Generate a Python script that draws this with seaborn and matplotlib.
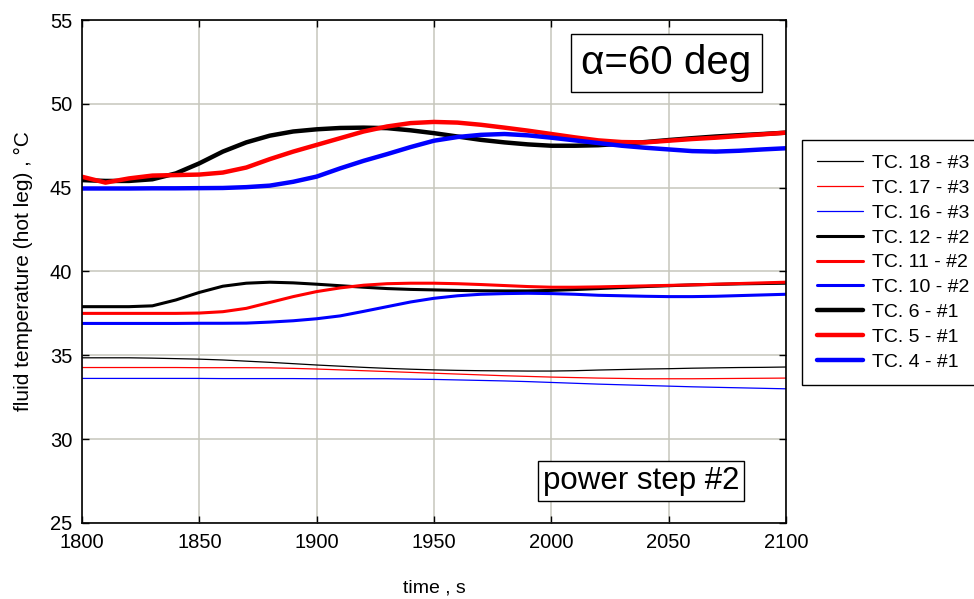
import numpy as np
import pandas as pd
import matplotlib
matplotlib.use('Agg')
import matplotlib.pyplot as plt
import seaborn as sns

# time axis, s
time_s = list(range(1800, 2101, 10))

# power step #2, thermocouples at three levels
tc18 = [34.85, 34.85, 34.85, 34.83, 34.80, 34.77, 34.72, 34.65, 34.58, 34.50, 34.42,
        34.35, 34.28, 34.22, 34.17, 34.13, 34.10, 34.08, 34.07, 34.06, 34.06,
        34.08, 34.12, 34.15, 34.18, 34.20, 34.23, 34.25, 34.27, 34.28, 34.30]
tc17 = [34.27, 34.27, 34.27, 34.27, 34.27, 34.26, 34.26, 34.26, 34.25, 34.22, 34.18,
        34.13, 34.08, 34.03, 33.98, 33.93, 33.88, 33.83, 33.78, 33.74, 33.70,
        33.67, 33.64, 33.62, 33.60, 33.60, 33.60, 33.61, 33.62, 33.63, 33.64]
tc16 = [33.62, 33.62, 33.62, 33.62, 33.62, 33.62, 33.61, 33.61, 33.61, 33.61, 33.60,
        33.60, 33.60, 33.60, 33.58, 33.56, 33.53, 33.50, 33.47, 33.43, 33.38,
        33.33, 33.28, 33.24, 33.20, 33.16, 33.12, 33.09, 33.06, 33.03, 33.00]
tc12 = [37.90, 37.90, 37.90, 37.95, 38.30, 38.75, 39.12, 39.30, 39.36, 39.32, 39.24,
        39.15, 39.06, 38.98, 38.93, 38.90, 38.87, 38.85, 38.84, 38.84, 38.87,
        38.92, 38.98, 39.04, 39.10, 39.15, 39.20, 39.23, 39.26, 39.28, 39.30]
tc11 = [37.50, 37.50, 37.50, 37.50, 37.50, 37.52, 37.60, 37.80, 38.15, 38.50, 38.80,
        39.02, 39.18, 39.27, 39.30, 39.30, 39.27, 39.22, 39.16, 39.10, 39.06,
        39.06, 39.08, 39.11, 39.14, 39.17, 39.20, 39.24, 39.28, 39.32, 39.36]
tc10 = [36.90, 36.90, 36.90, 36.90, 36.90, 36.91, 36.91, 36.92, 36.98, 37.06, 37.18,
        37.35, 37.62, 37.90, 38.18, 38.40, 38.55, 38.64, 38.68, 38.70, 38.68,
        38.64, 38.58, 38.55, 38.52, 38.50, 38.50, 38.52, 38.56, 38.60, 38.64]
tc6 = [45.45, 45.40, 45.40, 45.50, 45.85, 46.45, 47.15, 47.70, 48.10, 48.35, 48.48,
       48.56, 48.58, 48.55, 48.42, 48.25, 48.05, 47.85, 47.70, 47.58, 47.50,
       47.50, 47.53, 47.62, 47.72, 47.84, 47.95, 48.05, 48.13, 48.20, 48.28]
tc5 = [45.65, 45.30, 45.55, 45.72, 45.75, 45.78, 45.90, 46.20, 46.70, 47.15, 47.55,
       47.95, 48.35, 48.65, 48.85, 48.92, 48.88, 48.75, 48.58, 48.40, 48.20,
       48.00, 47.82, 47.72, 47.70, 47.80, 47.90, 47.98, 48.08, 48.18, 48.28]
tc4 = [44.95, 44.95, 44.95, 44.96, 44.96, 44.97, 44.98, 45.03, 45.12, 45.35, 45.66,
       46.15, 46.60, 47.00, 47.42, 47.80, 48.02, 48.15, 48.20, 48.12, 47.98,
       47.82, 47.66, 47.50, 47.38, 47.28, 47.18, 47.15, 47.20, 47.28, 47.35]

series_labels = ['TC. 18 - #3', 'TC. 17 - #3', 'TC. 16 - #3',
                 'TC. 12 - #2', 'TC. 11 - #2', 'TC. 10 - #2',
                 'TC. 6 - #1', 'TC. 5 - #1', 'TC. 4 - #1']
series_values = [tc18, tc17, tc16, tc12, tc11, tc10, tc6, tc5, tc4]
series_colors = ['black', 'red', 'blue'] * 3
series_widths = [0.9] * 3 + [2.2] * 3 + [3.2] * 3

sns.set_theme(style='whitegrid')
plt.rcParams['font.family'] = ['Liberation Sans', 'DejaVu Sans']
plt.rcParams['text.color'] = 'black'
plt.rcParams['axes.labelcolor'] = 'black'

fig = plt.figure(figsize=(9.74, 5.99), dpi=100)
ax = fig.add_axes([0.0842, 0.127, 0.807 - 0.0842, 0.9666 - 0.127])
ax.set_facecolor('white')

for lab, vals, col, lw in zip(series_labels, series_values, series_colors, series_widths):
    df = pd.DataFrame({'time': time_s, 'temp': vals})
    sns.lineplot(data=df, x='time', y='temp', ax=ax, color=col, linewidth=lw,
                 label=lab, legend=False)

ax.set_xlim(1800, 2100)
ax.set_ylim(25, 55)
ax.set_xticks(range(1800, 2101, 50))
ax.set_yticks(range(25, 56, 5))
ax.grid(True, color='#c6c6bc', linewidth=1.1)
for sp in ax.spines.values():
    sp.set_visible(True)
    sp.set_color('black')
    sp.set_linewidth(1.2)
ax.tick_params(direction='in', length=5, width=1, colors='black', labelsize=14.5,
               top=True, right=True, left=True, bottom=True, pad=7)
ax.set_xlabel('time , s', fontsize=14, labelpad=20)
ax.set_ylabel('fluid temperature (hot leg) , °C', fontsize=15, labelpad=12)

ax.text(0.83, 0.914, 'α=60 deg', transform=ax.transAxes, fontsize=29,
        ha='center', va='center',
        bbox=dict(boxstyle='square,pad=0.25', facecolor='white', edgecolor='black', linewidth=1))
ax.text(0.794, 0.0835, 'power step #2', transform=ax.transAxes, fontsize=22.5,
        ha='center', va='center',
        bbox=dict(boxstyle='square,pad=0.15', facecolor='white', edgecolor='black', linewidth=1))

handles, labels = ax.get_legend_handles_labels()
leg = fig.legend(handles, labels, loc='upper left',
                 bbox_to_anchor=(802 / 974, (599 - 140) / 599),
                 borderaxespad=0, fontsize=14, frameon=True, fancybox=False,
                 framealpha=1, edgecolor='black', handlelength=2.4,
                 handletextpad=0.45, labelspacing=0.37, borderpad=0.75)
leg.get_frame().set_linewidth(1)

fig.savefig('out.png', dpi=100, facecolor='white')
